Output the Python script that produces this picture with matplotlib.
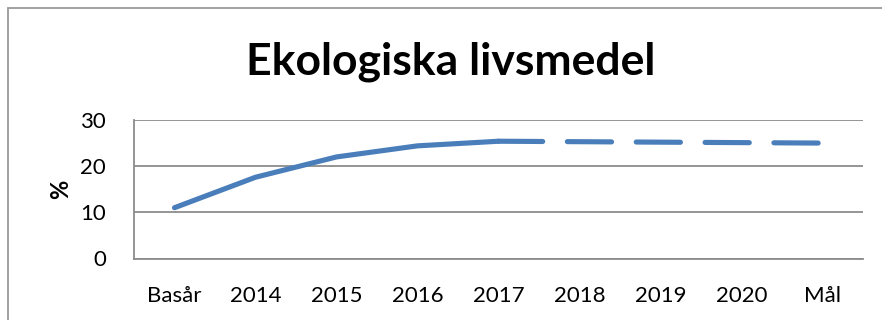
import matplotlib.pyplot as plt
from matplotlib.patches import Rectangle

# Andel ekologiska livsmedel (%)
categories = ["Basår", "2014", "2015", "2016", "2017", "2018", "2019", "2020", "Mål"]
utfall = [11.0, 17.6, 22.0, 24.4, 25.4]          # Basår-2017, uppmätt
prognos = [25.4, 25.3, 25.2, 25.1, 25.0]         # 2017-Mål, streckad

line_color = "#4A7EBB"
grid_color = "#8C8C8C"

plt.rcParams["font.family"] = ["Lato", "DejaVu Sans"]

fig = plt.figure(figsize=(8.82, 3.2), dpi=100)
ax = fig.add_axes([134 / 882, 1 - 258.5 / 320, (863 - 134) / 882, (258.5 - 120) / 320])

x_all = list(range(len(categories)))
ax.plot(x_all[:len(utfall)], utfall, color=line_color, lw=3.7,
        solid_capstyle="round", solid_joinstyle="round")
ax.plot(x_all[len(utfall) - 1:], prognos, color=line_color, lw=3.7,
        dashes=(8.6, 4.8), dash_capstyle="round")

ax.set_xlim(-0.5, len(categories) - 0.5)
ax.set_ylim(0, 30)
ax.set_yticks([0, 10, 20, 30])
ax.set_xticks(x_all)
ax.set_xticklabels(categories)
ax.tick_params(axis="both", length=0, labelsize=16, colors="black")
ax.tick_params(axis="x", pad=20)
ax.tick_params(axis="y", pad=20)
ax.yaxis.grid(True, color=grid_color, lw=1.3)
ax.set_axisbelow(True)
for side in ["top", "right"]:
    ax.spines[side].set_visible(False)
for side in ["left", "bottom"]:
    ax.spines[side].set_color(grid_color)
    ax.spines[side].set_linewidth(1.3)

ax.set_ylabel("%", fontsize=17, fontweight="bold", labelpad=6)

fig.text(451 / 882, 1 - 62 / 320, "Ekologiska livsmedel", ha="center", va="center",
         fontsize=32, fontweight="bold")

# ram runt diagrammet
fig.patches.append(Rectangle((7.5 / 882, -0.1), 1.2, 1 - 7.5 / 320 + 0.1,
                             transform=fig.transFigure, fill=False,
                             edgecolor="#9A9A9A", lw=1.3))

fig.savefig("out.png", dpi=100)
